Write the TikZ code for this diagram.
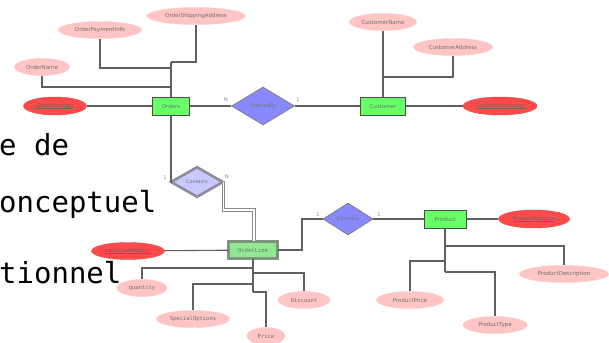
\documentclass[tikz,border=0pt]{standalone}
\usepackage{fontspec}
\setsansfont{DejaVu Sans}
\setmonofont{DejaVu Sans Mono}
\usetikzlibrary{shapes.geometric}
\definecolor{attrfill}{HTML}{FFC4C4}
\definecolor{keyfill}{HTML}{FF4A4A}
\definecolor{entfill}{HTML}{66FF66}
\definecolor{weakfill}{HTML}{90E890}
\definecolor{relfill}{HTML}{8888FF}
\definecolor{identfill}{HTML}{C8C8FF}
\definecolor{linec}{HTML}{606060}
\definecolor{txtc}{HTML}{707070}
\tikzset{
  conn/.style={draw=linec, line width=1.1pt},
  dblconn/.style={draw=linec!75, line width=0.9pt, double=white, double distance=1.5pt},
  attr/.style={ellipse, fill=attrfill, draw=attrfill, minimum height=17pt, inner sep=0pt,
    font=\sffamily\fontsize{5.5}{6}\selectfont, text=txtc},
  mattr/.style={attr, font=\ttfamily\fontsize{5.5}{6}\selectfont},
  keyattr/.style={ellipse, fill=keyfill, draw=keyfill!90!black, minimum height=18pt, inner sep=0pt,
    font=\sffamily\fontsize{5.5}{6}\selectfont, text=black!60},
  mkeyattr/.style={keyattr, font=\ttfamily\fontsize{5.5}{6}\selectfont},
  entity/.style={rectangle, fill=entfill, draw=black!70, line width=0.8pt, minimum height=18pt, inner sep=0pt,
    font=\sffamily\fontsize{5.5}{6}\selectfont, text=txtc},
  weakent/.style={entity, fill=weakfill, draw=black!45, double=weakfill!70!black, double distance=1.2pt,
    font=\ttfamily\fontsize{5.5}{6}\selectfont},
  rel/.style={diamond, fill=relfill, draw=black!50, line width=0.8pt, inner sep=0pt,
    font=\sffamily\fontsize{5}{6}\selectfont, text=black!55},
  identrel/.style={rel, fill=identfill, draw=black!45, double=identfill!70!black, double distance=1pt},
  card/.style={inner sep=0pt, font=\sffamily\fontsize{5}{6}\selectfont, text=black!50},
  overlay/.style={inner sep=0pt, anchor=base west, font=\ttfamily\fontsize{29}{30}\selectfont, text=black}
}
\begin{document}
\begin{tikzpicture}[x=1pt, y=-1pt]
\useasboundingbox (0,0) rectangle (609,342);

% --- Orders cluster
\node[entity, minimum width=37pt] (ord) at (171,106) {Orders};
\node[attr, minimum width=98pt] (oship) at (196,16) {OrderShippingAddress};
\node[attr, minimum width=83pt] (opay) at (100,30) {OrderPaymentInfo};
\node[attr, minimum width=55pt] (oname) at (42,67) {OrderName};
\node[keyattr, minimum width=63pt] (okey) at (55,106) {\underline{OrderNumber}};
\coordinate (jo1) at (171,87);
\coordinate (jo2) at (171,68);
\coordinate (jo3) at (171,62);
\draw[conn] (ord.north) -- (jo3);
\draw[conn] (oship.south) |- (jo3);
\draw[conn] (opay.south) |- (jo2);
\draw[conn] (oname.south) |- (jo1);
\draw[conn] (okey) -- (ord);

% --- OrderedBy
\node[rel, minimum width=63pt, minimum height=38pt] (ordby) at (263,106) {OrderedBy};
\node[entity, minimum width=45pt] (cust) at (383,106) {Customer};
\draw[conn] (ord) -- (ordby);
\draw[conn] (ordby) -- (cust);
\node[card] (c1) at (226,100) {N};
\node[card] (c2) at (298,100) {1};

% --- Customer attributes
\node[attr, minimum width=67pt] (cname) at (383,22) {CustomerName};
\node[attr, minimum width=79pt] (caddr) at (453,47) {CustomerAddress};
\node[keyattr, minimum width=74pt] (ckey) at (500,106) {\underline{CustomerNumber}};
\coordinate (jc1) at (383,77);
\draw[conn] (cust.north) -- (cname.south);
\draw[conn] (caddr.south) |- (jc1);
\draw[conn] (cust) -- (ckey);

% --- identifying relationship
\node[identrel, minimum width=52pt, minimum height=30pt] (ident) at (197,182) {Contains};
\node[card] (c3) at (165,178) {1};
\node[card] (c4) at (227,177) {N};
\node[weakent, minimum width=49pt, minimum height=17pt] (ol) at (253,250) {OrderLine};
\coordinate (ji2) at (254,210);
\draw[conn] (ord.south) |- (ident.west);
\draw[dblconn] (ident.east) |- (ji2) -- (ol.north -| ji2);

% --- OrderLine attributes
\node[mkeyattr, minimum width=73pt, minimum height=17pt] (lin) at (128,251) {\underline{LineItemNumber}};
\draw[conn] (lin) -- (ol);
\node[mattr, minimum width=50pt] (qty) at (142,288) {quantity};
\node[mattr, minimum width=52pt] (disc) at (304,300) {Discount};
\node[mattr, minimum width=73pt] (spec) at (193,319) {SpecialOptions};
\node[mattr, minimum width=38pt] (price) at (266,336) {Price};
\coordinate (ja) at (253,268);
\coordinate (jb) at (253,273);
\coordinate (jc) at (253,284);
\coordinate (jd) at (253,292);
\draw[conn] (ol.south) -- (jd);
\draw[conn] (ja) -| (qty.north);
\draw[conn] (jb) -| (disc.north);
\draw[conn] (jc) -| (spec.north);
\draw[conn] (jd) -| (price.north);

% --- Contains (OrderLine - Product)
\node[rel, minimum width=50pt, minimum height=32pt] (cont) at (348,219) {Contains};
\node[card] (c5) at (318,215) {1};
\node[card] (c6) at (379,215) {1};
\node[entity, minimum width=42pt] (prod) at (445,219) {Product};
\coordinate (jl1) at (302,219);
\draw[conn] (ol.east) -| (jl1) -- (cont.west);
\draw[conn] (cont) -- (prod);

% --- Product attributes
\node[keyattr, minimum width=71pt] (pkey) at (534,219) {\underline{ProductNumber}};
\node[attr, minimum width=89pt] (pdesc) at (564,274) {ProductDescription};
\node[attr, minimum width=67pt] (pprice) at (410,300) {ProductPrice};
\node[attr, minimum width=64pt] (ptype) at (495,325) {ProductType};
\coordinate (jp1) at (445,246);
\coordinate (jp2) at (445,261);
\coordinate (jp3) at (445,272);
\draw[conn] (prod) -- (pkey);
\draw[conn] (prod.south) -- (jp3);
\draw[conn] (jp1) -| (pdesc.north);
\draw[conn] (jp2) -| (pprice.north);
\draw[conn] (jp3) -| (ptype.north);

% --- overlaid text
\node[overlay] (t1) at (-1,155) {e de};
\node[overlay] (t2) at (-1,212) {onceptuel};
\node[overlay] (t3) at (-1,283) {tionnel};
\end{tikzpicture}
\end{document}
